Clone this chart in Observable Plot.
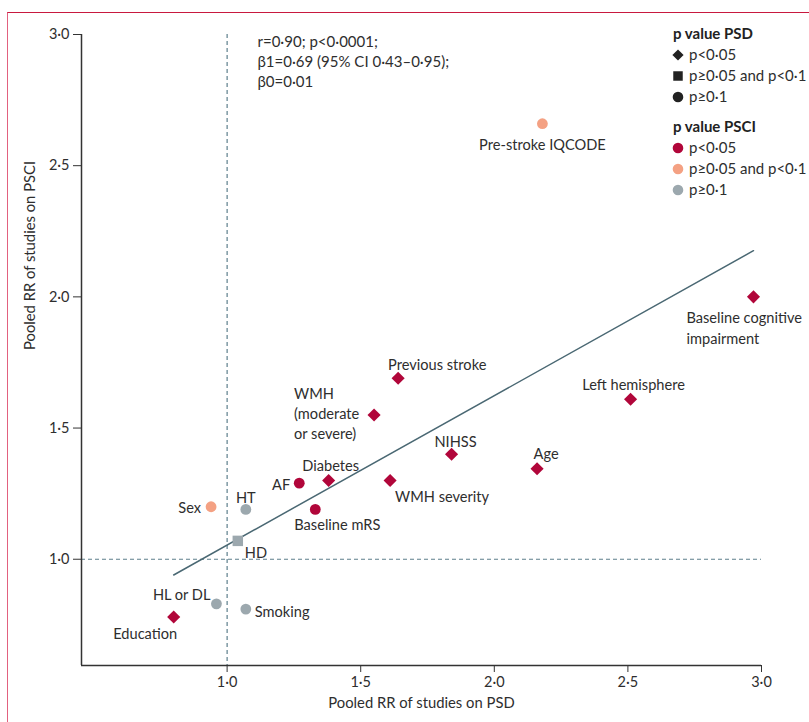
<!DOCTYPE html>
<html>
<head>
<meta charset="utf-8">
<script src="https://cdn.jsdelivr.net/npm/d3@7"></script>
<script src="https://cdn.jsdelivr.net/npm/@observablehq/plot@0.6"></script>
<style>
  body { margin: 0; background: #fff; font-family: Lato, "Open Sans", sans-serif; }
  #wrap { position: relative; width: 809px; height: 722px; overflow: hidden; }
  #frame { position: absolute; left: 7px; top: 12px; width: 820px; height: 730px;
           border-top: 1.5px solid #c8193f; border-left: 1.5px solid #e2617f; box-sizing: border-box; }
  #chart { position: absolute; left: 0; top: 0; }
</style>
</head>
<body>
<div id="wrap"><div id="frame"></div><div id="chart"></div></div>
<script>
// ---------- data ----------
const factors = ["Pre-stroke IQCODE", "Baseline cognitive impairment", "Left hemisphere", "Previous stroke",
  "WMH (moderate or severe)", "NIHSS", "Age", "Diabetes", "WMH severity", "AF", "Baseline mRS",
  "Sex", "HT", "HD", "HL or DL", "Smoking", "Education"];
const labels = ["Pre-stroke IQCODE", "Baseline cognitive\nimpairment", "Left hemisphere", "Previous stroke",
  "WMH\n(moderate\nor severe)", "NIHSS", "Age", "Diabetes", "WMH severity", "AF", "Baseline mRS",
  "Sex", "HT", "HD", "HL or DL", "Smoking", "Education"];
const psdRR  = [2.18, 2.97, 2.51, 1.64, 1.55, 1.84, 2.16, 1.38, 1.61, 1.27, 1.33, 0.94, 1.07, 1.04, 0.96, 1.07, 0.80];
const psciRR = [2.66, 2.00, 1.61, 1.69, 1.55, 1.40, 1.345, 1.30, 1.30, 1.29, 1.19, 1.20, 1.19, 1.07, 0.83, 0.81, 0.78];
const pCats = ["p<0·05", "p≥0·05 and p<0·1", "p≥0·1"];
const psdP  = [2, 0, 0, 0, 0, 0, 0, 0, 0, 2, 2, 2, 2, 1, 2, 2, 0].map(i => pCats[i]);
const psciP = [1, 0, 0, 0, 0, 0, 0, 0, 0, 0, 0, 1, 2, 2, 2, 2, 0].map(i => pCats[i]);
const xTicks = [1, 1.5, 2, 2.5, 3];
const yTicks = [1, 1.5, 2, 2.5, 3];
const fitPsd  = [0.80, 2.97];
const fitPsci = [0.94, 2.176];
const nullRR = 1;
const statsText = ["r=0·90; p<0·0001;", "β1=0·69 (95% CI 0·43–0·95);", "β0=0·01"];
const xTitle = "Pooled RR of studies on PSD";
const yTitle = "Pooled RR of studies on PSCI";

// ---------- styles ----------
const symbolFor = {"p<0·05": "diamond2", "p≥0·05 and p<0·1": "square", "p≥0·1": "circle"};
const rFor = {"p<0·05": 5.9, "p≥0·05 and p<0·1": 5.9, "p≥0·1": 5.4};
const colorFor = {"p<0·05": "#b1063a", "p≥0·05 and p<0·1": "#f4a183", "p≥0·1": "#9ca8ae"};
const labelPlacement = {
  "Pre-stroke IQCODE": [0, 20, "middle"],
  "Baseline cognitive impairment": [-67, 29.5, "start"],
  "Left hemisphere": [3, -16, "middle"],
  "Previous stroke": [-10, -15, "start"],
  "WMH (moderate or severe)": [-80, -2.5, "start"],
  "NIHSS": [4, -14, "middle"],
  "Age": [9, -16, "middle"],
  "Diabetes": [2, -16, "middle"],
  "WMH severity": [5, 15, "start"],
  "AF": [-9, 0, "end"],
  "Baseline mRS": [-21, 14, "start"],
  "Sex": [-10, -1, "end"],
  "HT": [0, -13, "middle"],
  "HD": [7, 10, "start"],
  "HL or DL": [-6, -11, "end"],
  "Smoking": [9, 1, "start"],
  "Education": [-28.5, 15, "middle"]
};

const data = factors.map((f, i) => ({factor: f, label: labels[i], psd: psdRR[i], psci: psciRR[i], pPsd: psdP[i], pPsci: psciP[i]}));
const fit = fitPsd.map((x, i) => ({x, y: fitPsci[i]}));
const fmt = d => d.toFixed(1).replace(".", "·");
const textColor = "#2e2e2e";
const font = "Lato, 'Open Sans', sans-serif";
const xDomain = [0.455, 3.0], yDomain = [0.595, 3.0];

const dotMarks = pCats.map(cat => Plot.dot(data.filter(d => d.pPsd === cat), {
  x: "psd", y: "psci", symbol: () => symbolFor[cat], r: rFor[cat], fill: d => colorFor[d.pPsci], stroke: "none"
}));
const labelMarks = data.map(d => {
  const [dx, dy, anchor] = labelPlacement[d.factor];
  return Plot.text([d], {x: "psd", y: "psci", text: "label", dx, dy, textAnchor: anchor,
    fontSize: 14.6, fill: textColor, lineHeight: d.factor.startsWith("WMH (") ? 1.4 : 1.44});
});

const plot = Plot.plot({
  width: 809, height: 722,
  marginTop: 34, marginLeft: 81, marginRight: 48, marginBottom: 57,
  style: {fontFamily: font, background: "transparent", color: textColor},
  x: {domain: xDomain},
  y: {domain: yDomain},
  symbol: {type: "identity"},
  color: {type: "identity"},
  marks: [
    Plot.ruleX([nullRR], {stroke: "#5d7f8c", strokeWidth: 1.2, strokeDasharray: "4,3"}),
    Plot.ruleY([nullRR], {stroke: "#5d7f8c", strokeWidth: 1.2, strokeDasharray: "4,3"}),
    Plot.line(fit, {x: "x", y: "y", stroke: "#4a6873", strokeWidth: 1.5}),
    Plot.ruleX([xDomain[0]], {stroke: "#333", strokeWidth: 1.5}),
    Plot.ruleY([yDomain[0]], {stroke: "#333", strokeWidth: 1.5}),
    Plot.axisX({ticks: xTicks, tickFormat: fmt, tickSize: 7, tickPadding: 4, fontSize: 14.5, label: null, stroke: "#333"}),
    Plot.axisY({ticks: yTicks, tickFormat: fmt, tickSize: 8, tickPadding: 4, fontSize: 14.5, label: null, stroke: "#333"}),
    Plot.text([xTitle], {frameAnchor: "bottom", dy: 42, fontSize: 14.8, fill: textColor}),
    Plot.text([yTitle], {frameAnchor: "left", dx: -51, rotate: -90, fontSize: 14.8, fill: textColor}),
    Plot.text([statsText.join("\n")], {frameAnchor: "top-left", dx: 176, dy: -2, lineAnchor: "top",
      textAnchor: "start", fontSize: 15, lineHeight: 1.35, fill: textColor}),
    ...dotMarks,
    ...labelMarks
  ]
});
document.getElementById("chart").appendChild(plot);

// ---------- legend ----------
const legendGroups = [
  {title: "p value PSD", entries: pCats.map(c => ({label: c, symbol: symbolFor[c], color: "#222"}))},
  {title: "p value PSCI", entries: pCats.map(c => ({label: c, symbol: "circle", color: colorFor[c]}))}
];
const d3sym = {diamond2: d3.symbolDiamond2, square: d3.symbolSquare, circle: d3.symbolCircle};
const symSize = {diamond2: 80, square: 90, circle: 88};
const svg = d3.select(plot);
const lg = svg.append("g").attr("transform", "translate(673,0)")
  .attr("text-anchor", "start")
  .style("font-family", font).style("font-size", "15px").attr("fill", textColor);
const groupTop = [34, 127];
legendGroups.forEach((g, gi) => {
  const y0 = groupTop[gi];
  lg.append("text").attr("x", 0).attr("y", y0).attr("dy", "0.35em").attr("font-weight", "bold").attr("fill", "#222").text(g.title);
  g.entries.forEach((e, i) => {
    const y = y0 + 21 + i * 21;
    lg.append("path").attr("transform", `translate(5,${y})`)
      .attr("d", d3.symbol(d3sym[e.symbol], symSize[e.symbol])()).attr("fill", e.color);
    lg.append("text").attr("x", 16).attr("y", y).attr("dy", "0.35em").text(e.label);
  });
});
</script>
</body>
</html>
